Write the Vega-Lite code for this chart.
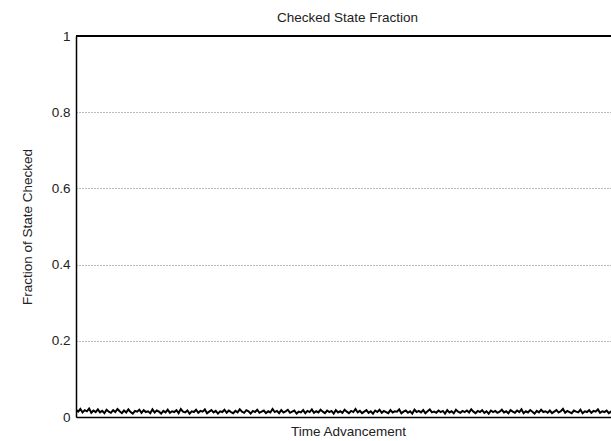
{
  "$schema": "https://vega.github.io/schema/vega-lite/v6.json",
  "autosize": "none",
  "padding": {"left": 76, "top": 36, "right": 0, "bottom": 24},
  "width": 535,
  "height": 381,
  "background": "white",
  "config": {
    "font": "Liberation Sans",
    "view": {"stroke": null},
    "axis": {"labelFont": "Liberation Sans", "titleFont": "Liberation Sans", "titleFontWeight": "normal", "labelColor": "#222", "titleColor": "#222"}
  },
  "title": {
    "text": "Checked State Fraction",
    "fontSize": 13.5,
    "fontWeight": "normal",
    "color": "#222",
    "anchor": "middle",
    "baseline": "alphabetic",
    "offset": 9,
    "dx": 4,
    "dy": 15
  },
  "data": {
    "values": [
      {"t":0,"f":0.019},{"t":1,"f":0.014},{"t":2,"f":0.021},{"t":3,"f":0.012},{"t":4,"f":0.018},{"t":5,"f":0.015},{"t":6,"f":0.022},{"t":7,"f":0.011},{"t":8,"f":0.017},{"t":9,"f":0.013},
      {"t":10,"f":0.020},{"t":11,"f":0.012},{"t":12,"f":0.016},{"t":13,"f":0.010},{"t":14,"f":0.019},{"t":15,"f":0.014},{"t":16,"f":0.011},{"t":17,"f":0.018},{"t":18,"f":0.013},{"t":19,"f":0.021},
      {"t":20,"f":0.015},{"t":21,"f":0.010},{"t":22,"f":0.017},{"t":23,"f":0.012},{"t":24,"f":0.020},{"t":25,"f":0.013},{"t":26,"f":0.009},{"t":27,"f":0.016},{"t":28,"f":0.014},{"t":29,"f":0.019},
      {"t":30,"f":0.011},{"t":31,"f":0.018},{"t":32,"f":0.013},{"t":33,"f":0.015},{"t":34,"f":0.010},{"t":35,"f":0.020},{"t":36,"f":0.012},{"t":37,"f":0.017},{"t":38,"f":0.014},{"t":39,"f":0.009},
      {"t":40,"f":0.016},{"t":41,"f":0.012},{"t":42,"f":0.019},{"t":43,"f":0.011},{"t":44,"f":0.015},{"t":45,"f":0.013},{"t":46,"f":0.018},{"t":47,"f":0.010},{"t":48,"f":0.021},{"t":49,"f":0.014},
      {"t":50,"f":0.012},{"t":51,"f":0.017},{"t":52,"f":0.009},{"t":53,"f":0.015},{"t":54,"f":0.013},{"t":55,"f":0.019},{"t":56,"f":0.011},{"t":57,"f":0.016},{"t":58,"f":0.014},{"t":59,"f":0.020},
      {"t":60,"f":0.010},{"t":61,"f":0.014},{"t":62,"f":0.018},{"t":63,"f":0.012},{"t":64,"f":0.016},{"t":65,"f":0.009},{"t":66,"f":0.015},{"t":67,"f":0.013},{"t":68,"f":0.019},{"t":69,"f":0.011},
      {"t":70,"f":0.017},{"t":71,"f":0.013},{"t":72,"f":0.010},{"t":73,"f":0.016},{"t":74,"f":0.012},{"t":75,"f":0.020},{"t":76,"f":0.014},{"t":77,"f":0.011},{"t":78,"f":0.018},{"t":79,"f":0.015},
      {"t":80,"f":0.009},{"t":81,"f":0.016},{"t":82,"f":0.013},{"t":83,"f":0.019},{"t":84,"f":0.011},{"t":85,"f":0.014},{"t":86,"f":0.017},{"t":87,"f":0.010},{"t":88,"f":0.015},{"t":89,"f":0.012},
      {"t":90,"f":0.021},{"t":91,"f":0.013},{"t":92,"f":0.016},{"t":93,"f":0.010},{"t":94,"f":0.018},{"t":95,"f":0.012},{"t":96,"f":0.015},{"t":97,"f":0.019},{"t":98,"f":0.011},{"t":99,"f":0.014},
      {"t":100,"f":0.017},{"t":101,"f":0.009},{"t":102,"f":0.014},{"t":103,"f":0.012},{"t":104,"f":0.018},{"t":105,"f":0.010},{"t":106,"f":0.016},{"t":107,"f":0.013},{"t":108,"f":0.020},{"t":109,"f":0.011},
      {"t":110,"f":0.015},{"t":111,"f":0.012},{"t":112,"f":0.019},{"t":113,"f":0.014},{"t":114,"f":0.010},{"t":115,"f":0.017},{"t":116,"f":0.013},{"t":117,"f":0.016},{"t":118,"f":0.009},{"t":119,"f":0.018},
      {"t":120,"f":0.012},{"t":121,"f":0.015},{"t":122,"f":0.011},{"t":123,"f":0.019},{"t":124,"f":0.014},{"t":125,"f":0.010},{"t":126,"f":0.016},{"t":127,"f":0.013},{"t":128,"f":0.021},{"t":129,"f":0.012},
      {"t":130,"f":0.016},{"t":131,"f":0.010},{"t":132,"f":0.014},{"t":133,"f":0.018},{"t":134,"f":0.011},{"t":135,"f":0.015},{"t":136,"f":0.009},{"t":137,"f":0.017},{"t":138,"f":0.013},{"t":139,"f":0.019},
      {"t":140,"f":0.011},{"t":141,"f":0.016},{"t":142,"f":0.013},{"t":143,"f":0.010},{"t":144,"f":0.018},{"t":145,"f":0.012},{"t":146,"f":0.015},{"t":147,"f":0.014},{"t":148,"f":0.020},{"t":149,"f":0.010},
      {"t":150,"f":0.014},{"t":151,"f":0.017},{"t":152,"f":0.011},{"t":153,"f":0.015},{"t":154,"f":0.009},{"t":155,"f":0.019},{"t":156,"f":0.013},{"t":157,"f":0.016},{"t":158,"f":0.012},{"t":159,"f":0.018},
      {"t":160,"f":0.010},{"t":161,"f":0.015},{"t":162,"f":0.020},{"t":163,"f":0.012},{"t":164,"f":0.014},{"t":165,"f":0.011},{"t":166,"f":0.017},{"t":167,"f":0.013},{"t":168,"f":0.016},{"t":169,"f":0.009},
      {"t":170,"f":0.018},{"t":171,"f":0.012},{"t":172,"f":0.015},{"t":173,"f":0.010},{"t":174,"f":0.019},{"t":175,"f":0.014},{"t":176,"f":0.011},{"t":177,"f":0.016},{"t":178,"f":0.013},{"t":179,"f":0.017},
      {"t":180,"f":0.012},{"t":181,"f":0.020},{"t":182,"f":0.014},{"t":183,"f":0.010},{"t":184,"f":0.016},{"t":185,"f":0.013},{"t":186,"f":0.018},{"t":187,"f":0.011},{"t":188,"f":0.015},{"t":189,"f":0.009},
      {"t":190,"f":0.017},{"t":191,"f":0.013},{"t":192,"f":0.016},{"t":193,"f":0.011},{"t":194,"f":0.014},{"t":195,"f":0.019},{"t":196,"f":0.012},{"t":197,"f":0.015},{"t":198,"f":0.010},{"t":199,"f":0.018},
      {"t":200,"f":0.014},{"t":201,"f":0.011},{"t":202,"f":0.017},{"t":203,"f":0.013},{"t":204,"f":0.020},{"t":205,"f":0.010},{"t":206,"f":0.015},{"t":207,"f":0.012},{"t":208,"f":0.018},{"t":209,"f":0.014},
      {"t":210,"f":0.009},{"t":211,"f":0.016},{"t":212,"f":0.012},{"t":213,"f":0.019},{"t":214,"f":0.013},{"t":215,"f":0.015},{"t":216,"f":0.011},{"t":217,"f":0.017},{"t":218,"f":0.010},{"t":219,"f":0.014},
      {"t":220,"f":0.018},{"t":221,"f":0.012},{"t":222,"f":0.015},{"t":223,"f":0.021},{"t":224,"f":0.011},{"t":225,"f":0.016},{"t":226,"f":0.013},{"t":227,"f":0.010},{"t":228,"f":0.017},{"t":229,"f":0.014},
      {"t":230,"f":0.012},{"t":231,"f":0.019},{"t":232,"f":0.010},{"t":233,"f":0.015},{"t":234,"f":0.013},{"t":235,"f":0.018},{"t":236,"f":0.011},{"t":237,"f":0.016},{"t":238,"f":0.014},{"t":239,"f":0.020},
      {"t":240,"f":0.011},{"t":241,"f":0.015},{"t":242,"f":0.013},{"t":243,"f":0.017},{"t":244,"f":0.010},{"t":245,"f":0.014},{"t":246,"f":0.019},{"t":247,"f":0.012},{"t":248,"f":0.016},{"t":249,"f":0.013}
    ]
  },
  "encoding": {
    "x": {
      "field": "t",
      "type": "quantitative",
      "scale": {"domain": [0, 245], "nice": false, "zero": false},
      "axis": {
        "title": "Time Advancement",
        "titleFontSize": 13.5,
        "titlePadding": 7,
        "titleX": 272,
        "labels": false,
        "ticks": false,
        "grid": false,
        "domain": true,
        "domainColor": "black",
        "domainWidth": 1.5
      }
    },
    "y": {
      "field": "f",
      "type": "quantitative",
      "scale": {"domain": [0, 1], "nice": false},
      "axis": {
        "title": "Fraction of State Checked",
        "titleFontSize": 13.5,
        "titlePadding": 17,
        "values": [0, 0.2, 0.4, 0.6, 0.8, 1],
        "format": "~g",
        "labelFontSize": 13.5,
        "labelPadding": 6,
        "ticks": false,
        "domain": true,
        "domainColor": "black",
        "domainWidth": 1.5,
        "grid": true,
        "gridColor": "#777",
        "gridDash": [1, 2],
        "gridWidth": 1
      }
    }
  },
  "layer": [
    {
      "mark": {"type": "line", "color": "black", "strokeWidth": 2, "clip": true}
    },
    {
      "mark": {"type": "rule", "color": "black", "strokeWidth": 1.5},
      "encoding": {"y": {"datum": 1, "type": "quantitative"}, "x": null}
    }
  ]
}
